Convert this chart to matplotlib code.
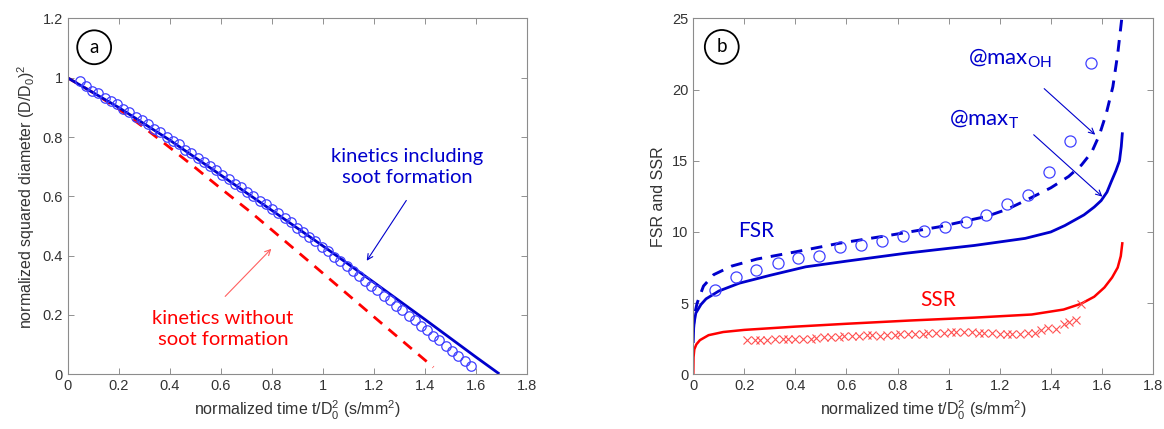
import matplotlib.pyplot as plt
from matplotlib.ticker import FormatStrFormatter

# (a) normalized squared diameter vs normalized time
t_soot = [0, 0.2, 0.4, 0.6, 0.8, 1.0, 1.2, 1.4, 1.6, 1.687]
d2_soot = [1.0, 0.9, 0.79, 0.672, 0.553, 0.433, 0.31, 0.185, 0.058, 0.004]

t_nosoot = [0, 0.1, 0.2, 0.3, 0.4, 0.5, 0.6, 0.713, 0.8, 1.0, 1.2, 1.433]
d2_nosoot = [1.0, 0.95, 0.895, 0.832, 0.765, 0.697, 0.627, 0.55, 0.487, 0.341, 0.194, 0.024]

t_exp = [0.048, 0.072, 0.097, 0.121, 0.145, 0.170, 0.194, 0.218, 0.242, 0.267,
         0.291, 0.315, 0.340, 0.364, 0.388, 0.413, 0.437, 0.461, 0.485, 0.510,
         0.534, 0.558, 0.583, 0.607, 0.631, 0.656, 0.680, 0.704, 0.728, 0.753,
         0.777, 0.801, 0.826, 0.850, 0.874, 0.898, 0.923, 0.947, 0.971, 0.996,
         1.020, 1.044, 1.068, 1.093, 1.117, 1.141, 1.166, 1.190, 1.214, 1.239,
         1.263, 1.287, 1.311, 1.336, 1.360, 1.384, 1.409, 1.433, 1.457, 1.482,
         1.506, 1.530, 1.555, 1.579]
d2_exp = [0.990, 0.972, 0.957, 0.947, 0.933, 0.922, 0.910, 0.893, 0.884, 0.868,
          0.857, 0.843, 0.827, 0.816, 0.801, 0.787, 0.775, 0.758, 0.746, 0.730,
          0.717, 0.701, 0.688, 0.672, 0.660, 0.643, 0.630, 0.614, 0.602, 0.585,
          0.573, 0.556, 0.543, 0.527, 0.513, 0.495, 0.480, 0.462, 0.448, 0.429,
          0.415, 0.397, 0.383, 0.364, 0.349, 0.331, 0.316, 0.297, 0.283, 0.264,
          0.249, 0.230, 0.216, 0.196, 0.182, 0.163, 0.148, 0.129, 0.114, 0.095,
          0.080, 0.061, 0.045, 0.027]

# (b) FSR and SSR vs normalized time
t_fsr_T = [0, 0.002, 0.01, 0.03, 0.05, 0.1, 0.18, 0.3, 0.44, 0.6, 0.83, 1.0, 1.1,
           1.2, 1.3, 1.4, 1.455, 1.53, 1.57, 1.597, 1.62, 1.636, 1.655, 1.669,
           1.676, 1.68]
fsr_T = [2.3, 3.5, 4.3, 4.9, 5.3, 5.85, 6.4, 6.95, 7.55, 7.95, 8.5, 8.85, 9.05,
         9.3, 9.55, 10.0, 10.45, 11.2, 11.75, 12.2, 12.8, 13.5, 14.3, 15.0,
         16.0, 16.9]

t_fsr_OH = [0, 0.005, 0.015, 0.04, 0.08, 0.15, 0.25, 0.4, 0.57, 0.78, 0.96, 1.15,
            1.23, 1.3, 1.4, 1.47, 1.52, 1.56, 1.59, 1.617, 1.643, 1.662, 1.678]
fsr_OH = [3.0, 4.2, 5.0, 6.2, 7.0, 7.6, 8.1, 8.6, 9.2, 9.8, 10.35, 11.1,
          11.6, 12.2, 13.1, 13.9, 14.7, 15.6, 16.8, 18.3, 20.2, 22.5, 25.0]

t_ssr = [0, 0.001, 0.004, 0.012, 0.026, 0.06, 0.117, 0.2, 0.4, 0.6, 0.85, 1.1,
         1.325, 1.45, 1.519, 1.57, 1.61, 1.64, 1.662, 1.674, 1.68]
ssr = [0, 1.2, 1.75, 2.1, 2.4, 2.75, 2.97, 3.12, 3.35, 3.55, 3.78, 3.98,
       4.2, 4.55, 4.96, 5.45, 6.1, 6.8, 7.5, 8.3, 9.2]

t_fsr_exp = [0.085, 0.166, 0.245, 0.33, 0.412, 0.493, 0.576, 0.657, 0.739, 0.82,
             0.903, 0.984, 1.066, 1.147, 1.23, 1.311, 1.393, 1.477, 1.559]
fsr_exp = [5.92, 6.86, 7.33, 7.8, 8.16, 8.33, 8.92, 9.1, 9.34, 9.74,
           10.05, 10.35, 10.68, 11.18, 11.93, 12.59, 14.24, 16.42, 21.86]

t_ssr_exp = [0.21, 0.24, 0.26, 0.29, 0.32, 0.35, 0.37, 0.40, 0.43, 0.46,
             0.48, 0.51, 0.54, 0.57, 0.59, 0.62, 0.65, 0.68, 0.70, 0.73,
             0.76, 0.79, 0.81, 0.84, 0.87, 0.90, 0.92, 0.95, 0.98, 1.01,
             1.03, 1.06, 1.09, 1.12, 1.14, 1.17, 1.20, 1.23, 1.25, 1.28,
             1.31, 1.34, 1.36, 1.39, 1.42, 1.45, 1.47, 1.50, 1.52]
ssr_exp = [2.42, 2.42, 2.43, 2.44, 2.45, 2.46, 2.47, 2.48, 2.48, 2.50,
           2.52, 2.60, 2.62, 2.64, 2.66, 2.68, 2.72, 2.76, 2.74, 2.72,
           2.75, 2.78, 2.80, 2.80, 2.84, 2.86, 2.88, 2.90, 2.92, 2.96,
           2.98, 2.96, 2.94, 2.92, 2.90, 2.88, 2.86, 2.84, 2.82, 2.86,
           2.90, 2.92, 3.10, 3.25, 3.15, 3.55, 3.70, 3.85, 4.95]

blue = '#0000CC'
blue_mk = '#4040FF'
red = '#FF0000'
red_mk = '#FF5050'
note_font = 'Lato'
xlabel = r'normalized time t/$\mathregular{D_0^2}$ (s/mm$^\mathregular{2}$)'

plt.rcParams['font.family'] = ['Liberation Sans', 'DejaVu Sans']

fig = plt.figure(figsize=(11.64, 4.29), dpi=100)
ax1 = fig.add_axes([0.058, 0.1275, 0.3948, 0.8295])
ax2 = fig.add_axes([0.5956, 0.1275, 0.3949, 0.8295])


def style_axes(ax):
    ax.tick_params(direction='in', top=True, right=True, length=4, width=0.6,
                   colors='0.5', labelcolor='0.2', labelsize=10.5)
    for sp in ax.spines.values():
        sp.set_color('0.55')
        sp.set_linewidth(0.8)
    ax.xaxis.set_major_formatter(FormatStrFormatter('%g'))
    ax.yaxis.set_major_formatter(FormatStrFormatter('%g'))


# panel a
ax1.plot(t_nosoot, d2_nosoot, color=red, lw=2, ls=(0, (4, 3)))
ax1.plot(t_soot, d2_soot, color=blue, lw=2)
ax1.plot(t_exp, d2_exp, 'o', mfc='none', mec=blue_mk, ms=6.8, mew=0.9)
ax1.set_xlim(0, 1.8)
ax1.set_ylim(0, 1.2)
ax1.set_xticks([0, 0.2, 0.4, 0.6, 0.8, 1, 1.2, 1.4, 1.6, 1.8])
ax1.set_yticks([0, 0.2, 0.4, 0.6, 0.8, 1, 1.2])
style_axes(ax1)
ax1.set_xlabel(xlabel, fontsize=11.5, color='0.2')
ax1.set_ylabel(r'normalized squared diameter (D/$\mathregular{D_0}$)$^\mathregular{2}$',
               fontsize=11.5, color='0.2')

ax1.text(1.33, 0.699, 'kinetics including\nsoot formation', color=blue,
         family=note_font, fontsize=14.5, ha='center', va='center', linespacing=1.3)
ax1.annotate('', xy=(1.166, 0.375), xytext=(1.333, 0.594),
             arrowprops=dict(arrowstyle='->', color=blue, lw=0.8))
ax1.text(0.609, 0.152, 'kinetics without\nsoot formation', color=red,
         family=note_font, fontsize=14.5, ha='center', va='center', linespacing=1.3)
ax1.annotate('', xy=(0.806, 0.43), xytext=(0.61, 0.256),
             arrowprops=dict(arrowstyle='->', color='#FF6060', lw=0.8))
ax1.text(0.058, 0.919, 'a', transform=ax1.transAxes, fontsize=13.5, family=note_font,
         ha='center', va='center',
         bbox=dict(boxstyle='circle,pad=0.45', fc='white', ec='black', lw=1.3))

# panel b
ax2.plot(t_fsr_OH, fsr_OH, color=blue, lw=2.1, ls=(0, (4, 3)))
ax2.plot(t_fsr_T, fsr_T, color=blue, lw=2)
ax2.plot(t_ssr, ssr, color=red, lw=1.8)
ax2.plot(t_fsr_exp, fsr_exp, 'o', mfc='none', mec=blue_mk, ms=8, mew=0.9)
ax2.plot(t_ssr_exp, ssr_exp, 'x', color=red_mk, ms=5.3, mew=0.8)
ax2.set_xlim(0, 1.8)
ax2.set_ylim(0, 25)
ax2.set_xticks([0, 0.2, 0.4, 0.6, 0.8, 1, 1.2, 1.4, 1.6, 1.8])
ax2.set_yticks([0, 5, 10, 15, 20, 25])
style_axes(ax2)
ax2.set_xlabel(xlabel, fontsize=11.5, color='0.2')
ax2.set_ylabel('FSR and SSR', fontsize=11.5, color='0.2')

ax2.text(0.247, 10.1, 'FSR', color=blue, family=note_font, fontsize=15,
         ha='center', va='center')
ax2.text(0.958, 5.2, 'SSR', color=red, family=note_font, fontsize=15,
         ha='center', va='center')
ax2.text(1.242, 22.2, r'@max$_\mathregular{OH}$', color=blue, family=note_font,
         fontsize=16, ha='center', va='center')
ax2.text(1.14, 17.9, r'@max$_\mathregular{T}$', color=blue, family=note_font,
         fontsize=16, ha='center', va='center')
ax2.annotate('', xy=(1.582, 16.7), xytext=(1.366, 20.2),
             arrowprops=dict(arrowstyle='->', color=blue, lw=0.8))
ax2.annotate('', xy=(1.61, 12.35), xytext=(1.325, 16.96),
             arrowprops=dict(arrowstyle='->', color=blue, lw=0.8))
ax2.text(0.062, 0.92, 'b', transform=ax2.transAxes, fontsize=13.5, family=note_font,
         ha='center', va='center',
         bbox=dict(boxstyle='circle,pad=0.45', fc='white', ec='black', lw=1.3))

fig.savefig('out.png', dpi=100)
